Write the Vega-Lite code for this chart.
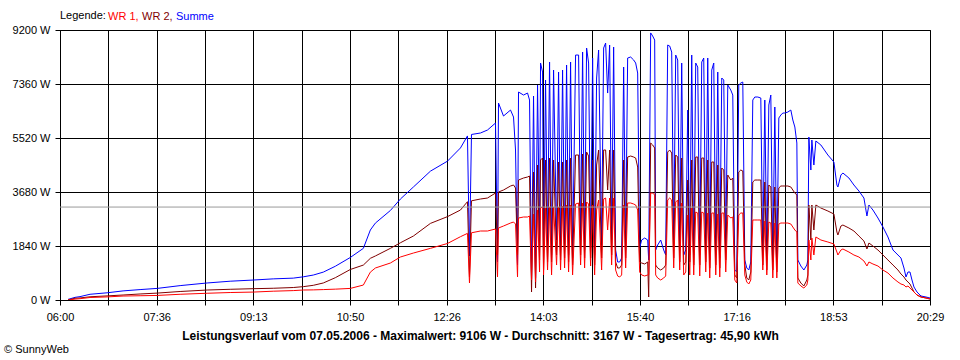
{
"$schema": "https://vega.github.io/schema/vega-lite/v6.json",
"width": 870, "height": 270,
"autosize": {"type": "none"},
"padding": {"left": 60, "top": 30, "right": 30, "bottom": 60},
"background": "white",
"config": {
  "view": {"stroke": "black", "strokeWidth": 1},
  "axis": {"gridColor": "black", "gridOpacity": 1, "gridWidth": 1, "domainColor": "black", "domainWidth": 1, "tickColor": "black", "tickWidth": 1, "tickSize": 5, "labelColor": "black", "labelFont": "Liberation Sans", "labelFontSize": 11}
},
"title": {"text": "© SunnyWeb", "orient": "bottom", "anchor": "start", "frame": "bounds", "dx": -8, "offset": 3, "font": "Liberation Sans", "fontSize": 11, "fontWeight": "normal", "color": "black"},
"data": {"values": [
{"t":8,"r":0,"m":0,"b":20},
{"t":15,"r":30,"m":60,"b":90},
{"t":20,"r":45,"m":70,"b":115},
{"t":30,"r":85,"m":110,"b":195},
{"t":47,"r":105,"m":140,"b":245},
{"t":63,"r":135,"m":170,"b":310},
{"t":80,"r":145,"m":205,"b":355},
{"t":97,"r":155,"m":235,"b":395},
{"t":120,"r":195,"m":290,"b":490},
{"t":147,"r":230,"m":340,"b":580},
{"t":170,"r":255,"m":365,"b":640},
{"t":193,"r":270,"m":385,"b":680},
{"t":213,"r":300,"m":400,"b":720},
{"t":233,"r":320,"m":425,"b":745},
{"t":243,"r":340,"m":455,"b":790},
{"t":253,"r":345,"m":500,"b":850},
{"t":263,"r":355,"m":580,"b":950},
{"t":275,"r":370,"m":760,"b":1150},
{"t":290,"r":395,"m":1040,"b":1450},
{"t":303,"r":510,"m":1190,"b":1760},
{"t":310,"r":950,"m":1420,"b":2385},
{"t":315,"r":1090,"m":1500,"b":2620},
{"t":330,"r":1260,"m":1760,"b":3050},
{"t":340,"r":1465,"m":1950,"b":3440},
{"t":353,"r":1600,"m":2180,"b":3850},
{"t":370,"r":1760,"m":2610,"b":4390},
{"t":387,"r":1925,"m":2840,"b":4730},
{"t":400,"r":2157,"m":3066,"b":5180},
{"t":407,"r":2270,"m":3350,"b":5590},
{"t":409,"r":580,"m":790,"b":1500},
{"t":411,"r":2290,"m":3380,"b":5640},
{"t":420,"r":2351,"m":3441,"b":5690},
{"t":427,"r":2351,"m":3475,"b":5792},
{"t":435,"r":2419,"m":3645,"b":6030},
{"t":437,"r":784,"m":1533,"b":1295},
{"t":438,"r":2453,"m":3680,"b":6712},
{"t":443,"r":2521,"m":3748,"b":6269},
{"t":450,"r":2623,"m":3884,"b":6473},
{"t":453,"r":2657,"m":3918,"b":6235},
{"t":455,"r":2589,"m":3816,"b":5111},
{"t":457,"r":784,"m":1533,"b":1192},
{"t":458,"r":2794,"m":4088,"b":7086},
{"t":463,"r":2828,"m":4157,"b":6984},
{"t":467,"r":2828,"m":4191,"b":7052},
{"t":469,"r":2862,"m":4225,"b":6814},
{"t":471,"r":681,"m":273,"b":715},
{"t":473,"r":2930,"m":4361,"b":6950},
{"t":475,"r":613,"m":409,"b":750},
{"t":477,"r":3066,"m":4599,"b":7325},
{"t":479,"r":954,"m":1363,"b":1874},
{"t":480,"r":3134,"m":4770,"b":8075},
{"t":482,"r":3169,"m":4838,"b":7768},
{"t":483,"r":852,"m":1022,"b":1704},
{"t":485,"r":3134,"m":4770,"b":7495},
{"t":487,"r":1022,"m":1295,"b":1874},
{"t":489,"r":3169,"m":4838,"b":8109},
{"t":491,"r":852,"m":1295,"b":1533},
{"t":493,"r":3169,"m":4770,"b":7836},
{"t":496,"r":1192,"m":1533,"b":2044},
{"t":498,"r":3169,"m":4702,"b":7768},
{"t":500,"r":1022,"m":1363,"b":1704},
{"t":502,"r":3203,"m":4702,"b":7836},
{"t":504,"r":1090,"m":1431,"b":1874},
{"t":506,"r":3237,"m":4770,"b":8006},
{"t":508,"r":954,"m":1295,"b":1533},
{"t":510,"r":3237,"m":4838,"b":8109},
{"t":512,"r":852,"m":1192,"b":1431},
{"t":515,"r":3271,"m":4940,"b":8347},
{"t":518,"r":3305,"m":4940,"b":8347},
{"t":520,"r":1192,"m":1533,"b":2044},
{"t":522,"r":3305,"m":4974,"b":8449},
{"t":524,"r":1090,"m":1431,"b":1704},
{"t":526,"r":3339,"m":5042,"b":8586},
{"t":528,"r":3271,"m":4906,"b":8075},
{"t":530,"r":1158,"m":1431,"b":1772},
{"t":532,"r":3237,"m":4770,"b":8245},
{"t":534,"r":852,"m":1192,"b":1533},
{"t":536,"r":3066,"m":4599,"b":7564},
{"t":538,"r":3407,"m":5111,"b":8518},
{"t":541,"r":1022,"m":1431,"b":1874},
{"t":543,"r":3441,"m":5111,"b":8586},
{"t":545,"r":3475,"m":5111,"b":8756},
{"t":547,"r":2385,"m":3748,"b":7052},
{"t":549,"r":3475,"m":5111,"b":8688},
{"t":551,"r":1192,"m":1533,"b":2044},
{"t":553,"r":3475,"m":5111,"b":8620},
{"t":555,"r":1022,"m":1295,"b":1704},
{"t":557,"r":818,"m":1090,"b":1295},
{"t":559,"r":784,"m":1090,"b":1295},
{"t":561,"r":852,"m":1192,"b":1431},
{"t":563,"r":3237,"m":4770,"b":7938},
{"t":565,"r":1090,"m":1431,"b":1704},
{"t":567,"r":3305,"m":4872,"b":8245},
{"t":570,"r":3305,"m":4906,"b":8279},
{"t":573,"r":3271,"m":4872,"b":8177},
{"t":575,"r":3237,"m":4838,"b":8075},
{"t":577,"r":3066,"m":4531,"b":7734},
{"t":579,"r":954,"m":1295,"b":1772},
{"t":581,"r":852,"m":1261,"b":2044},
{"t":584,"r":818,"m":1227,"b":2112},
{"t":587,"r":852,"m":1295,"b":2044},
{"t":588,"r":852,"m":102,"b":1363},
{"t":590,"r":3645,"m":5349,"b":9100},
{"t":592,"r":3645,"m":5281,"b":8994},
{"t":594,"r":3577,"m":5179,"b":8858},
{"t":595,"r":852,"m":1192,"b":1704},
{"t":597,"r":750,"m":1090,"b":1874},
{"t":600,"r":681,"m":1022,"b":2044},
{"t":603,"r":750,"m":1090,"b":1704},
{"t":605,"r":818,"m":1192,"b":1533},
{"t":607,"r":3407,"m":5042,"b":8688},
{"t":609,"r":3475,"m":5111,"b":8654},
{"t":611,"r":3407,"m":5008,"b":8449},
{"t":613,"r":1090,"m":1431,"b":2044},
{"t":615,"r":3339,"m":4940,"b":8347},
{"t":617,"r":3407,"m":4872,"b":8177},
{"t":619,"r":1022,"m":1295,"b":1704},
{"t":621,"r":3305,"m":4838,"b":8075},
{"t":623,"r":852,"m":1192,"b":1533},
{"t":625,"r":954,"m":1295,"b":1704},
{"t":627,"r":2896,"m":4088,"b":6473},
{"t":629,"r":852,"m":1295,"b":1533},
{"t":631,"r":3134,"m":4770,"b":8347},
{"t":633,"r":852,"m":1192,"b":1533},
{"t":635,"r":2998,"m":4872,"b":8075},
{"t":637,"r":2964,"m":4872,"b":7938},
{"t":639,"r":818,"m":1192,"b":1533},
{"t":641,"r":2998,"m":4838,"b":8109},
{"t":643,"r":2964,"m":4838,"b":8245},
{"t":645,"r":954,"m":1295,"b":1704},
{"t":647,"r":2964,"m":4770,"b":8245},
{"t":649,"r":750,"m":1090,"b":1363},
{"t":651,"r":2964,"m":4702,"b":7836},
{"t":653,"r":2964,"m":4702,"b":8075},
{"t":655,"r":852,"m":1192,"b":1533},
{"t":657,"r":2930,"m":4599,"b":7768},
{"t":659,"r":784,"m":1090,"b":1431},
{"t":661,"r":2964,"m":4497,"b":7564},
{"t":663,"r":2964,"m":4429,"b":7495},
{"t":665,"r":954,"m":1363,"b":1704},
{"t":667,"r":2896,"m":4259,"b":7325},
{"t":670,"r":2794,"m":4088,"b":7155},
{"t":672,"r":2828,"m":4157,"b":6984},
{"t":674,"r":681,"m":852,"b":1022},
{"t":676,"r":579,"m":750,"b":954},
{"t":678,"r":2896,"m":4361,"b":7325},
{"t":680,"r":2964,"m":4429,"b":7393},
{"t":682,"r":2964,"m":4395,"b":7427},
{"t":684,"r":852,"m":1192,"b":1363},
{"t":686,"r":613,"m":750,"b":1090},
{"t":688,"r":545,"m":681,"b":1022},
{"t":690,"r":681,"m":954,"b":1295},
{"t":692,"r":2726,"m":4020,"b":6814},
{"t":694,"r":2726,"m":4088,"b":6916},
{"t":697,"r":2726,"m":4088,"b":6916},
{"t":700,"r":2726,"m":4088,"b":6882},
{"t":702,"r":1022,"m":1192,"b":1533},
{"t":704,"r":2692,"m":4020,"b":6814},
{"t":706,"r":852,"m":1022,"b":1363},
{"t":708,"r":2657,"m":3918,"b":6644},
{"t":710,"r":2623,"m":3850,"b":6984},
{"t":712,"r":750,"m":1022,"b":1295},
{"t":714,"r":2623,"m":3850,"b":6576},
{"t":716,"r":750,"m":954,"b":1295},
{"t":718,"r":2589,"m":3816,"b":6201},
{"t":720,"r":2623,"m":3884,"b":6303},
{"t":722,"r":2623,"m":3884,"b":6371},
{"t":724,"r":2623,"m":3884,"b":6371},
{"t":727,"r":2623,"m":3884,"b":6405},
{"t":730,"r":2589,"m":3850,"b":6473},
{"t":732,"r":2487,"m":3748,"b":6133},
{"t":734,"r":2385,"m":3645,"b":5894},
{"t":736,"r":2317,"m":3577,"b":5349},
{"t":737,"r":579,"m":750,"b":1363},
{"t":740,"r":477,"m":579,"b":1158},
{"t":743,"r":409,"m":477,"b":1022},
{"t":746,"r":511,"m":681,"b":1192},
{"t":747,"r":681,"m":852,"b":1363},
{"t":748,"r":2044,"m":3237,"b":5553},
{"t":750,"r":1363,"m":2044,"b":4429},
{"t":751,"r":2112,"m":3237,"b":5451},
{"t":753,"r":1533,"m":2385,"b":4599},
{"t":755,"r":2147,"m":3237,"b":5417},
{"t":760,"r":2044,"m":3134,"b":5281},
{"t":767,"r":1976,"m":3032,"b":4940},
{"t":773,"r":1908,"m":2930,"b":4702},
{"t":776,"r":1635,"m":2317,"b":3918},
{"t":777,"r":1533,"m":2215,"b":3850},
{"t":780,"r":1704,"m":2521,"b":4259},
{"t":782,"r":1738,"m":2555,"b":4327},
{"t":788,"r":1635,"m":2453,"b":4157},
{"t":793,"r":1533,"m":2351,"b":3918},
{"t":798,"r":1465,"m":2180,"b":3714},
{"t":803,"r":1329,"m":2010,"b":3475},
{"t":806,"r":1158,"m":1738,"b":2862},
{"t":808,"r":1295,"m":1942,"b":3237},
{"t":812,"r":1227,"m":1840,"b":3066},
{"t":817,"r":1158,"m":1704,"b":2794},
{"t":822,"r":1022,"m":1533,"b":2487},
{"t":827,"r":920,"m":1363,"b":2147},
{"t":832,"r":750,"m":1192,"b":1704},
{"t":837,"r":613,"m":1022,"b":1533},
{"t":840,"r":545,"m":886,"b":1431},
{"t":843,"r":511,"m":784,"b":1090},
{"t":845,"r":443,"m":681,"b":784},
{"t":847,"r":477,"m":613,"b":954},
{"t":849,"r":409,"m":545,"b":954},
{"t":851,"r":341,"m":409,"b":681},
{"t":853,"r":273,"m":273,"b":443},
{"t":856,"r":170,"m":170,"b":273},
{"t":860,"r":102,"m":102,"b":136},
{"t":865,"r":68,"m":68,"b":102},
{"t":869,"r":34,"m":34,"b":68}
]},
"layer": [
 {
  "transform": [{"fold": ["b", "m", "r"], "as": ["s", "v"]}],
  "mark": {"type": "line", "strokeWidth": 1, "clip": true},
  "encoding": {
   "x": {"field": "t", "type": "quantitative",
     "scale": {"domain": [0, 869], "nice": false, "zero": false},
     "axis": {
       "values": [0, 48.28, 96.56, 144.83, 193.11, 241.39, 289.67, 337.94, 386.22, 434.5, 482.78, 531.06, 579.33, 627.61, 675.89, 724.17, 772.44, 820.72, 869],
       "labelExpr": "round(datum.value/48.2778) % 2 == 0 ? ['06:00','07:36','09:13','10:50','12:26','14:03','15:40','17:16','18:53','20:29'][round(datum.value/96.5556)] : ''",
       "labelOverlap": false, "labelFlush": false, "labelBound": false,
       "labelPadding": 6, "grid": true,
       "title": "Leistungsverlauf vom 07.05.2006 - Maximalwert: 9106 W - Durchschnitt: 3167 W - Tagesertrag: 45,90 kWh",
       "titleFont": "Liberation Sans", "titleFontSize": 12, "titleFontWeight": "bold", "titleColor": "black",
       "titleX": 420, "titlePadding": 8
     }},
   "y": {"field": "v", "type": "quantitative",
     "scale": {"domain": [0, 9200], "nice": false},
     "axis": {"values": [0, 1840, 3680, 5520, 7360, 9200], "labelExpr": "datum.value + ' W'", "labelPadding": 5, "grid": true, "title": null}},
   "color": {"field": "s", "type": "nominal",
     "scale": {"domain": ["r", "m", "b"], "range": ["#ff0000", "#800000", "#0000ff"]},
     "legend": {
       "orient": "none", "legendX": 0, "legendY": -19, "direction": "horizontal",
       "title": "Legende:", "titleOrient": "left", "titleFont": "Liberation Sans", "titleFontSize": 11, "titleFontWeight": "normal", "titleColor": "black", "titlePadding": 3,
       "labelFont": "Liberation Sans", "labelFontSize": 11, "labelOffset": -12, "columnPadding": 3,
       "symbolSize": 0, "symbolStrokeWidth": 0, "symbolOpacity": 0,
       "labelExpr": "datum.value == 'r' ? 'WR 1,' : datum.value == 'm' ? 'WR 2,' : 'Summe'",
       "encode": {"labels": {"update": {"fill": {"scale": "color", "field": "value"}}}}
     }}
  }
 },
 {
  "data": {"values": [{}]},
  "mark": {"type": "rule", "color": "#999999", "strokeWidth": 1},
  "encoding": {"y": {"datum": 3167}}
 }
]
}
